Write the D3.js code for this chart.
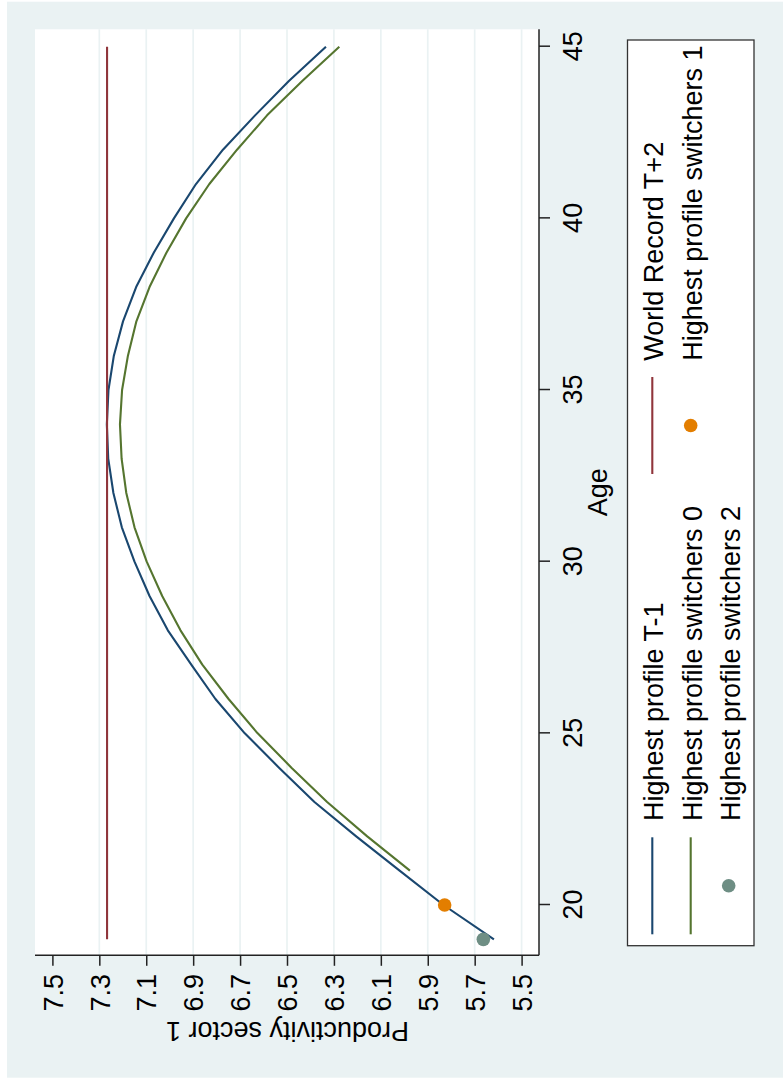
<!DOCTYPE html>
<html>
<head>
<meta charset="utf-8">
<script src="https://cdn.jsdelivr.net/npm/d3@7"></script>
<style>
html,body{margin:0;padding:0;background:#ffffff;}
svg{display:block;}
text{font-family:"Liberation Sans",Arial,Helvetica,sans-serif;fill:#000;}
</style>
</head>
<body>
<svg id="chart" width="783" height="1079"></svg>
<script>
// ---------- data ----------
const agesT1 = [19,20,21,22,23,24,25,26,27,28,29,30,31,32,33,34,35,36,37,38,39,40,41,42,43,44,45];
const profileT1 = [5.618,5.833,6.020,6.205,6.383,6.534,6.680,6.805,6.908,7.008,7.086,7.150,7.204,7.240,7.262,7.268,7.261,7.238,7.199,7.143,7.068,6.982,6.888,6.773,6.636,6.492,6.334];
const agesSw0 = [21,22,23,24,25,26,27,28,29,30,31,32,33,34,35,36,37,38,39,40,41,42,43,44,45];
const switchers0 = [5.976,6.158,6.329,6.481,6.625,6.749,6.861,6.954,7.032,7.098,7.150,7.185,7.205,7.212,7.203,7.178,7.142,7.086,7.014,6.930,6.831,6.713,6.585,6.435,6.277];
const agesRecord = [19,45];
const worldRecord = [7.267,7.267];
const agesSw1 = [20];
const switchers1 = [5.828];
const agesSw2 = [19];
const switchers2 = [5.663];
const ageTicks = [20,25,30,35,40,45];
const prodTicks = [5.5,5.7,5.9,6.1,6.3,6.5,6.7,6.9,7.1,7.3,7.5];
const legendLabels = ["Highest profile T-1","World Record T+2","Highest profile switchers 0","Highest profile switchers 1","Highest profile switchers 2"];

// ---------- setup (chart drawn in landscape frame, then rotated) ----------
const W = 1079, H = 783;
const svg = d3.select("#chart");
const g = svg.append("g").attr("transform", `translate(0,${W}) rotate(-90)`);

const FS = 27;
const colors = {navy:"#1a476f", maroon:"#90353b", green:"#55752f", orange:"#e37e00", teal:"#6e8e84"};

const plot = {left:123.7, right:1049.7, top:35, bottom:539};
const x = d3.scaleLinear().domain([20,45]).range([174,1032.3]);
const y = d3.scaleLinear().domain([5.5,7.5]).range([521.6,52.4]);

// outer background
g.append("rect").attr("x",1.3).attr("y",7).attr("width",1076).attr("height",800).attr("fill","#eaf2f3");
// plot region
g.append("rect").attr("x",plot.left).attr("y",plot.top)
  .attr("width",plot.right-plot.left).attr("height",plot.bottom-plot.top).attr("fill","#ffffff");

// gridlines
g.append("g").selectAll("line").data(prodTicks.filter(t => t < 7.45)).join("line")
  .attr("x1",plot.left).attr("x2",plot.right)
  .attr("y1",d=>y(d)).attr("y2",d=>y(d))
  .attr("stroke","#eaf2f3").attr("stroke-width",1.7);

// lines
const line = d3.line().x(d=>x(d[0])).y(d=>y(d[1]));
function drawLine(ages, vals, color){
  g.append("path").datum(ages.map((a,i)=>[a,vals[i]]))
    .attr("d",line).attr("fill","none").attr("stroke",color)
    .attr("stroke-width",2.1).attr("stroke-linejoin","round");
}
drawLine(agesT1, profileT1, colors.navy);
drawLine(agesRecord, worldRecord, colors.maroon);
drawLine(agesSw0, switchers0, colors.green);

function drawDots(ages, vals, color){
  g.append("g").selectAll("circle").data(ages.map((a,i)=>[a,vals[i]])).join("circle")
    .attr("cx",d=>x(d[0])).attr("cy",d=>y(d[1])).attr("r",6.8).attr("fill",color);
}
drawDots(agesSw1, switchers1, colors.orange);
drawDots(agesSw2, switchers2, colors.teal);

// axes
const axisColor = "#222";
g.append("line").attr("x1",plot.left).attr("x2",plot.left).attr("y1",plot.top).attr("y2",plot.bottom)
  .attr("stroke",axisColor).attr("stroke-width",1.5);
g.append("line").attr("x1",plot.left).attr("x2",plot.right).attr("y1",plot.bottom).attr("y2",plot.bottom)
  .attr("stroke",axisColor).attr("stroke-width",1.5);

const yAxis = g.append("g").attr("transform",`translate(${plot.left},0)`)
  .call(d3.axisLeft(y).tickValues(prodTicks).tickSize(10.5).tickPadding(8.2).tickFormat(d3.format(".1f")));
yAxis.select(".domain").remove();
yAxis.selectAll(".tick line").attr("stroke",axisColor).attr("stroke-width",1.5);
yAxis.selectAll(".tick text").attr("font-size",FS).attr("dy","0.36em")
  .attr("font-family","'Liberation Sans',Arial,Helvetica,sans-serif").attr("fill","#000");

const xAxis = g.append("g").attr("transform",`translate(0,${plot.bottom})`)
  .call(d3.axisBottom(x).tickValues(ageTicks).tickSize(11).tickFormat(d3.format("d")));
xAxis.select(".domain").remove();
xAxis.selectAll(".tick line").attr("stroke",axisColor).attr("stroke-width",1.5);
xAxis.selectAll(".tick text").attr("font-size",FS).attr("y",42.7).attr("dy",null)
  .attr("font-family","'Liberation Sans',Arial,Helvetica,sans-serif").attr("fill","#000");

// axis titles
g.append("text").attr("x",(plot.left+plot.right)/2).attr("y",607).attr("text-anchor","middle")
  .attr("font-size",FS).text("Age");
g.append("text").attr("transform",`translate(57.3,287.5) rotate(-90)`).attr("text-anchor","middle")
  .attr("font-size",FS).text("Productivity sector 1");

// legend
const leg = g.append("g");
leg.append("rect").attr("x",133.3).attr("y",627.5).attr("width",905.7).attr("height",126.5)
  .attr("fill","#ffffff").attr("stroke","#333").attr("stroke-width",1.3);
const colKey = [144.7, 605];
const keyLen = 97;
const textOff = 113.3;
const rowY = [652.3, 690.7, 728.7];
const legendItems = [
  {label:legendLabels[0], type:"line", color:colors.navy, row:0, col:0},
  {label:legendLabels[1], type:"line", color:colors.maroon, row:0, col:1},
  {label:legendLabels[2], type:"line", color:colors.green, row:1, col:0},
  {label:legendLabels[3], type:"dot", color:colors.orange, row:1, col:1},
  {label:legendLabels[4], type:"dot", color:colors.teal, row:2, col:0}
];
legendItems.forEach(it=>{
  const kx = colKey[it.col], ky = rowY[it.row];
  if(it.type==="line"){
    leg.append("line").attr("x1",kx).attr("x2",kx+keyLen).attr("y1",ky).attr("y2",ky)
      .attr("stroke",it.color).attr("stroke-width",2.1);
  } else {
    leg.append("circle").attr("cx",kx+keyLen/2).attr("cy",ky).attr("r",6.8).attr("fill",it.color);
  }
  leg.append("text").attr("x",kx+textOff).attr("y",ky+11).attr("font-size",FS).text(it.label);
});
</script>
</body>
</html>
